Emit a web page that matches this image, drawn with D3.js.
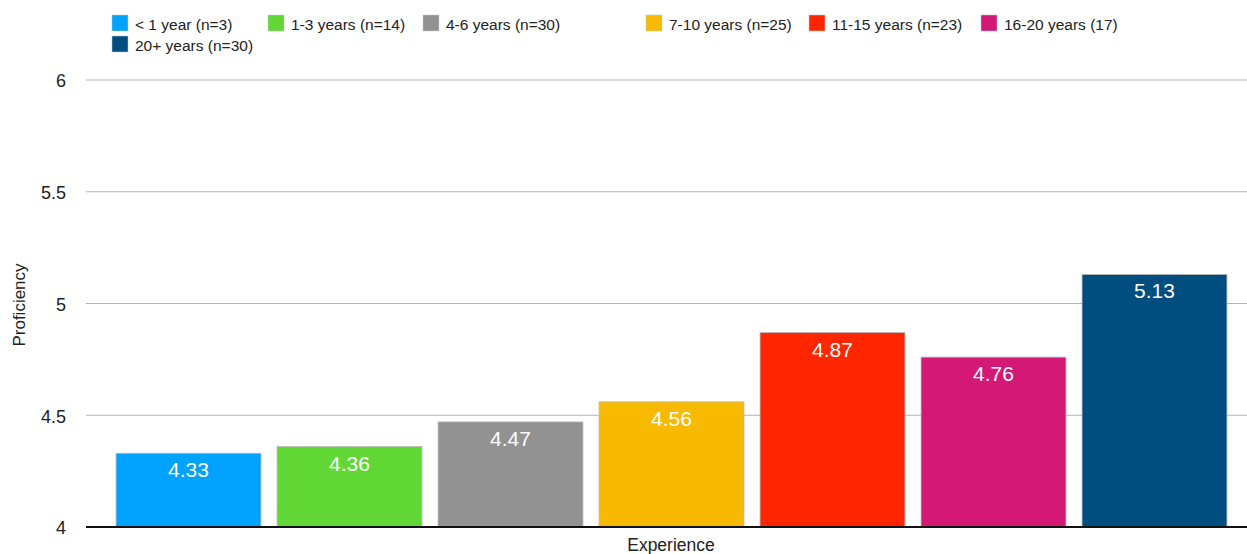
<!DOCTYPE html>
<html>
<head>
<meta charset="utf-8">
<script src="https://cdn.jsdelivr.net/npm/d3@7"></script>
<style>
  html, body { margin: 0; padding: 0; background: #fff; }
  svg { display: block; font-family: "Liberation Sans", Helvetica, Arial, sans-serif; }
</style>
</head>
<body>
<svg id="chart" width="1247" height="554"></svg>
<script>
// Average proficiency by years of experience
const categories = [
  "< 1 year (n=3)",
  "1-3 years (n=14)",
  "4-6 years (n=30)",
  "7-10 years (n=25)",
  "11-15 years (n=23)",
  "16-20 years (17)",
  "20+ years (n=30)"
];
const values = [4.33, 4.36, 4.47, 4.56, 4.87, 4.76, 5.13];
const colors = ["#00a2ff", "#61d836", "#929292", "#f8ba00", "#ff2600", "#d31876", "#004d80"];
const yTicks = [4, 4.5, 5, 5.5, 6];

const svg = d3.select("#chart");
const plotLeft = 86, plotRight = 1247;

const y = d3.scaleLinear().domain([4, 6]).range([527, 80]);
const x = d3.scaleBand()
  .domain(categories)
  .range([108, 1235])
  .paddingInner(0.1)
  .paddingOuter(0.05);

// Horizontal gridlines
svg.append("g")
  .selectAll("line")
  .data(yTicks.filter(t => t !== 4))
  .join("line")
  .attr("x1", plotLeft).attr("x2", plotRight)
  .attr("y1", d => y(d)).attr("y2", d => y(d))
  .attr("stroke", "#b3b3b3").attr("stroke-width", 1);

// Y axis tick labels
const yAxis = d3.axisLeft(y).tickValues(yTicks).tickSize(0).tickPadding(0)
  .tickFormat(d3.format("~g"));
svg.append("g")
  .attr("transform", `translate(66,1)`)
  .call(yAxis)
  .call(g => g.select(".domain").remove())
  .call(g => g.selectAll("text")
    .attr("font-size", 18)
    .attr("font-family", "Liberation Sans, Helvetica, Arial, sans-serif")
    .attr("fill", "#222"));

// Bars
svg.append("g")
  .selectAll("rect")
  .data(categories)
  .join("rect")
  .attr("x", d => x(d))
  .attr("width", x.bandwidth())
  .attr("y", (d, i) => y(values[i]))
  .attr("height", (d, i) => y(4) - y(values[i]))
  .attr("fill", (d, i) => colors[i])
  .attr("stroke", "#b8b8b8")
  .attr("stroke-width", 0.8);

// Value labels inside bar tops
svg.append("g")
  .selectAll("text")
  .data(categories)
  .join("text")
  .attr("x", d => x(d) + x.bandwidth() / 2)
  .attr("y", (d, i) => y(values[i]) + 24)
  .attr("text-anchor", "middle")
  .attr("font-size", 21)
  .attr("fill", "#fff")
  .text((d, i) => d3.format(".2f")(values[i]));

// Baseline
svg.append("line")
  .attr("x1", plotLeft).attr("x2", plotRight)
  .attr("y1", y(4)).attr("y2", y(4))
  .attr("stroke", "#111").attr("stroke-width", 2);

// Axis titles
svg.append("text")
  .attr("x", 671).attr("y", 551)
  .attr("text-anchor", "middle")
  .attr("font-size", 17.5)
  .attr("fill", "#222")
  .text("Experience");

svg.append("text")
  .attr("transform", "translate(25,305) rotate(-90)")
  .attr("text-anchor", "middle")
  .attr("font-size", 17)
  .attr("fill", "#222")
  .text("Proficiency");

// Legend
const legendPos = [
  [112, 15], [268, 15], [423, 15], [646, 15], [809, 15], [981, 15],
  [112, 36]
];
const legend = svg.append("g")
  .selectAll("g")
  .data(categories)
  .join("g")
  .attr("transform", (d, i) => `translate(${legendPos[i][0]},${legendPos[i][1]})`);
legend.append("rect")
  .attr("width", 16).attr("height", 16)
  .attr("fill", (d, i) => colors[i])
  .attr("stroke", "#c8c8c8").attr("stroke-width", 0.5);
legend.append("text")
  .attr("x", 23).attr("y", 15)
  .attr("font-size", 15.5)
  .attr("fill", "#222")
  .text(d => d);
</script>
</body>
</html>
